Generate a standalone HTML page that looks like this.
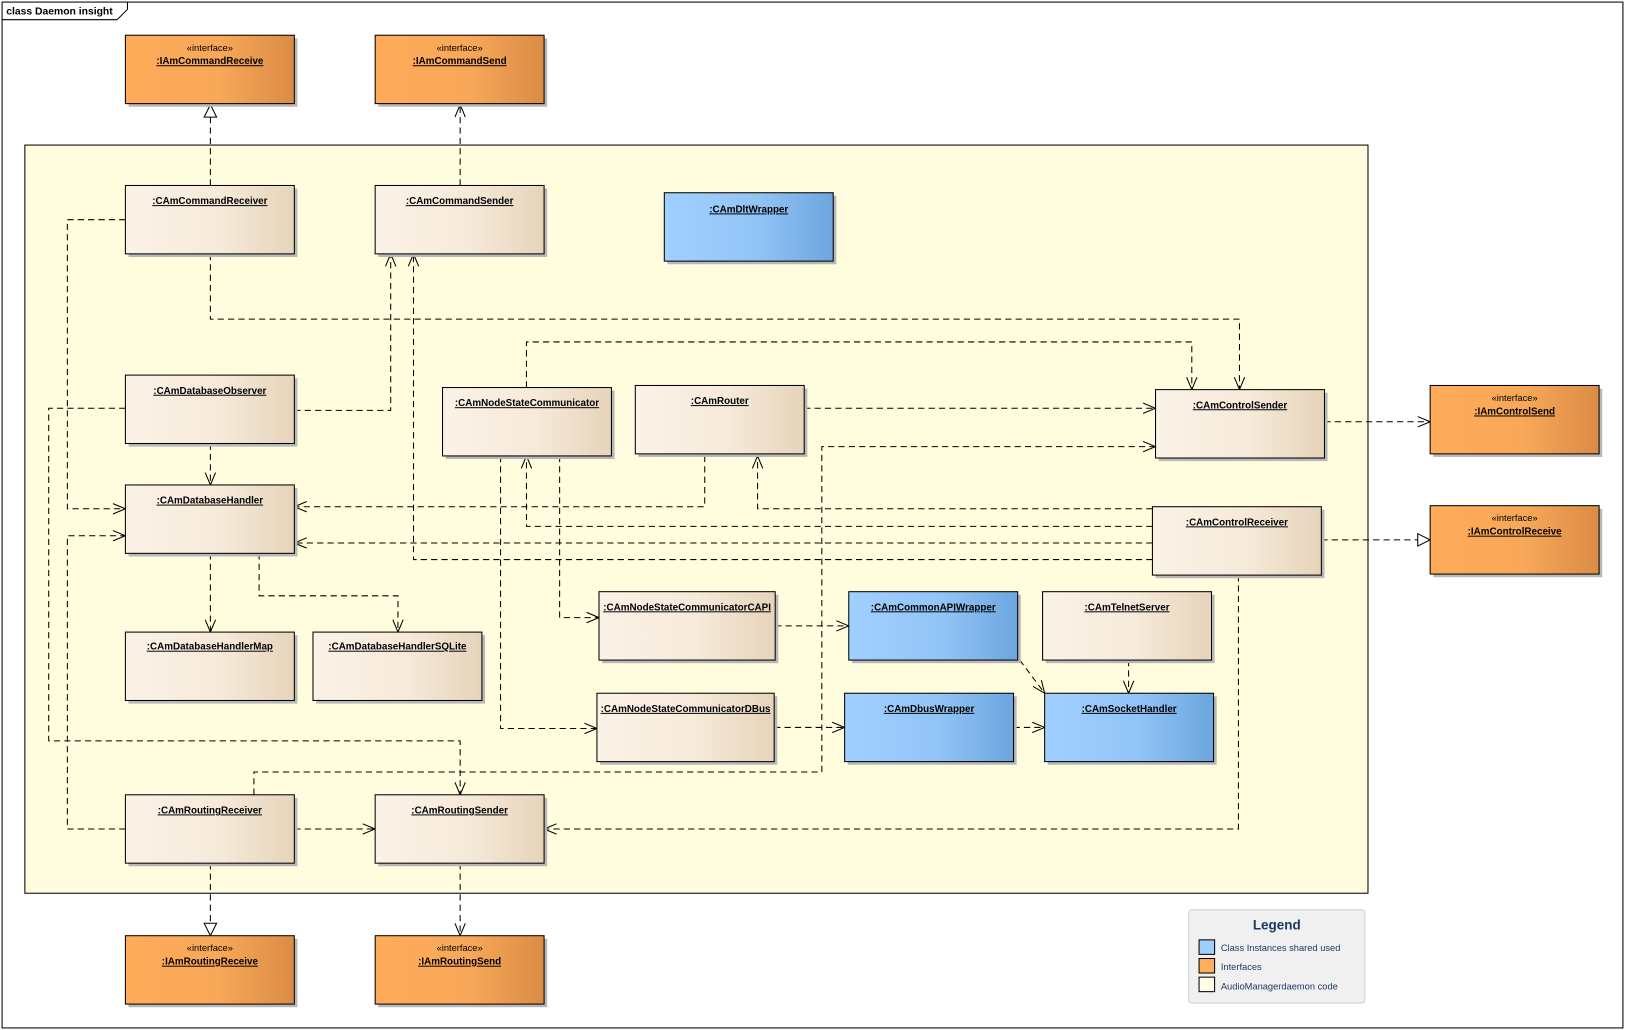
<!DOCTYPE html>
<html><head><meta charset="utf-8"><style>
html,body{margin:0;padding:0;background:#fff;}
svg{display:block;}
text{font-family:"Liberation Sans",Arial,sans-serif;}
.n{font-size:9.5px;font-weight:bold;text-decoration:underline;fill:#000;}
.s{font-size:9px;fill:#000;}
.c{fill:none;stroke:#000;stroke-width:1;stroke-dasharray:6,4;}
.r{stroke:#000;stroke-width:1;}
.sh{fill:#b8b8b8;}
</style></head><body>
<svg width="1625" height="1030" viewBox="0 0 1568 994" preserveAspectRatio="none" xmlns="http://www.w3.org/2000/svg">
<defs>
<linearGradient id="gb" x1="0" x2="1" y1="0" y2="0"><stop offset="0" stop-color="#FBF2E6"/><stop offset="0.55" stop-color="#F6EADA"/><stop offset="1" stop-color="#E6D4BA"/></linearGradient>
<linearGradient id="go" x1="0" x2="1" y1="0" y2="0"><stop offset="0" stop-color="#FFAC5A"/><stop offset="0.55" stop-color="#F8A858"/><stop offset="1" stop-color="#DA8C46"/></linearGradient>
<linearGradient id="gl" x1="0" x2="1" y1="0" y2="0"><stop offset="0" stop-color="#A0D0FF"/><stop offset="0.55" stop-color="#92C4F6"/><stop offset="1" stop-color="#6CA6DE"/></linearGradient>
<marker id="a" markerWidth="14" markerHeight="12" refX="13" refY="6" orient="auto" markerUnits="userSpaceOnUse"><path d="M1,1 L13,6 L1,11" fill="none" stroke="#000"/></marker>
<marker id="t" markerWidth="14" markerHeight="14" refX="13" refY="7" orient="auto" markerUnits="userSpaceOnUse"><path d="M1,1 L13,7 L1,13 Z" fill="#fff" stroke="#000"/></marker>
</defs>
<rect x="0" y="0" width="1568" height="994" fill="#fff"/>
<rect x="2" y="2" width="1564" height="990" fill="none" stroke="#000"/>
<path d="M2,19 L113,19 L123,9 L123,2" fill="none" stroke="#000"/>
<text x="6" y="14" style="font-size:10px;font-weight:bold">class Daemon insight</text>
<rect x="24" y="140" width="1296" height="722" fill="#FFFDDE" stroke="#000"/>

<!-- connectors -->
<path class="c" d="M203,179 L203,101" marker-end="url(#t)"/>
<path class="c" d="M444,179 L444,101" marker-end="url(#a)"/>
<path class="c" d="M121,212 L65,212 L65,491 L121,491" marker-end="url(#a)"/>
<path class="c" d="M203,245 L203,308 L1196,308 L1196,376" marker-end="url(#a)"/>
<path class="c" d="M508,374 L508,330 L1150,330 L1150,376" marker-end="url(#a)"/>
<path class="c" d="M284,396 L377,396 L377,245" marker-end="url(#a)"/>
<path class="c" d="M121,394 L47,394 L47,715 L444,715 L444,767" marker-end="url(#a)"/>
<path class="c" d="M203,428 L203,468" marker-end="url(#a)"/>
<path class="c" d="M776,394 L1115,394" marker-end="url(#a)"/>
<path class="c" d="M680,440 L680,489 L284,489" marker-end="url(#a)"/>
<path class="c" d="M1112,491 L731,491 L731,440" marker-end="url(#a)"/>
<path class="c" d="M1112,508 L508,508 L508,440" marker-end="url(#a)"/>
<path class="c" d="M1112,524 L284,524" marker-end="url(#a)"/>
<path class="c" d="M1112,540 L399,540 L399,245" marker-end="url(#a)"/>
<path class="c" d="M1278,407 L1380,407" marker-end="url(#a)"/>
<path class="c" d="M1275,521 L1380,521" marker-end="url(#t)"/>
<path class="c" d="M1195,555 L1195,800 L525,800" marker-end="url(#a)"/>
<path class="c" d="M540,440 L540,596 L578,596" marker-end="url(#a)"/>
<path class="c" d="M483,440 L483,703 L576,703" marker-end="url(#a)"/>
<path class="c" d="M203,534 L203,610" marker-end="url(#a)"/>
<path class="c" d="M250,534 L250,575 L384,575 L384,610" marker-end="url(#a)"/>
<path class="c" d="M748,604 L819,604" marker-end="url(#a)"/>
<path class="c" d="M747,702 L815,702" marker-end="url(#a)"/>
<path class="c" d="M984,637 L1008,669" marker-end="url(#a)"/>
<path class="c" d="M1089,637 L1089,669" marker-end="url(#a)"/>
<path class="c" d="M978,702 L1008,702" marker-end="url(#a)"/>
<path class="c" d="M245,767 L245,745 L793,745 L793,431 L1115,431" marker-end="url(#a)"/>
<path class="c" d="M121,800 L65,800 L65,517 L121,517" marker-end="url(#a)"/>
<path class="c" d="M284,800 L362,800" marker-end="url(#a)"/>
<path class="c" d="M203,833 L203,903" marker-end="url(#t)"/>
<path class="c" d="M444,833 L444,903" marker-end="url(#a)"/>

<!-- interfaces -->
<g>
<rect class="sh" x="124" y="37" width="163" height="66"/><rect class="r" x="121" y="34" width="163" height="66" fill="url(#go)"/>
<text class="s" x="202.5" y="49" text-anchor="middle">«interface»</text><text class="n" x="202.5" y="62" text-anchor="middle">:IAmCommandReceive</text>
<rect class="sh" x="365" y="37" width="163" height="66"/><rect class="r" x="362" y="34" width="163" height="66" fill="url(#go)"/>
<text class="s" x="443.5" y="49" text-anchor="middle">«interface»</text><text class="n" x="443.5" y="62" text-anchor="middle">:IAmCommandSend</text>
<rect class="sh" x="1383" y="375" width="163" height="66"/><rect class="r" x="1380" y="372" width="163" height="66" fill="url(#go)"/>
<text class="s" x="1461.5" y="387" text-anchor="middle">«interface»</text><text class="n" x="1461.5" y="400" text-anchor="middle">:IAmControlSend</text>
<rect class="sh" x="1383" y="491" width="163" height="66"/><rect class="r" x="1380" y="488" width="163" height="66" fill="url(#go)"/>
<text class="s" x="1461.5" y="503" text-anchor="middle">«interface»</text><text class="n" x="1461.5" y="516" text-anchor="middle">:IAmControlReceive</text>
<rect class="sh" x="124" y="906" width="163" height="66"/><rect class="r" x="121" y="903" width="163" height="66" fill="url(#go)"/>
<text class="s" x="202.5" y="918" text-anchor="middle">«interface»</text><text class="n" x="202.5" y="931" text-anchor="middle">:IAmRoutingReceive</text>
<rect class="sh" x="365" y="906" width="163" height="66"/><rect class="r" x="362" y="903" width="163" height="66" fill="url(#go)"/>
<text class="s" x="443.5" y="918" text-anchor="middle">«interface»</text><text class="n" x="443.5" y="931" text-anchor="middle">:IAmRoutingSend</text>
</g>

<!-- classes -->
<g>
<rect class="sh" x="124" y="182" width="163" height="66"/><rect class="r" x="121" y="179" width="163" height="66" fill="url(#gb)"/><text class="n" x="202.5" y="197" text-anchor="middle">:CAmCommandReceiver</text>
<rect class="sh" x="365" y="182" width="163" height="66"/><rect class="r" x="362" y="179" width="163" height="66" fill="url(#gb)"/><text class="n" x="443.5" y="197" text-anchor="middle">:CAmCommandSender</text>
<rect class="sh" x="644" y="189" width="163" height="66"/><rect class="r" x="641" y="186" width="163" height="66" fill="url(#gl)"/><text class="n" x="722.5" y="205" text-anchor="middle">:CAmDltWrapper</text>
<rect class="sh" x="124" y="365" width="163" height="66"/><rect class="r" x="121" y="362" width="163" height="66" fill="url(#gb)"/><text class="n" x="202.5" y="380" text-anchor="middle">:CAmDatabaseObserver</text>
<rect class="sh" x="430" y="377" width="163" height="66"/><rect class="r" x="427" y="374" width="163" height="66" fill="url(#gb)"/><text class="n" x="508.5" y="392" text-anchor="middle">:CAmNodeStateCommunicator</text>
<rect class="sh" x="616" y="375" width="163" height="66"/><rect class="r" x="613" y="372" width="163" height="66" fill="url(#gb)"/><text class="n" x="694.5" y="390" text-anchor="middle">:CAmRouter</text>
<rect class="sh" x="1118" y="379" width="163" height="66"/><rect class="r" x="1115" y="376" width="163" height="66" fill="url(#gb)"/><text class="n" x="1196.5" y="394" text-anchor="middle">:CAmControlSender</text>
<rect class="sh" x="124" y="471" width="163" height="66"/><rect class="r" x="121" y="468" width="163" height="66" fill="url(#gb)"/><text class="n" x="202.5" y="486" text-anchor="middle">:CAmDatabaseHandler</text>
<rect class="sh" x="1115" y="492" width="163" height="66"/><rect class="r" x="1112" y="489" width="163" height="66" fill="url(#gb)"/><text class="n" x="1193.5" y="507" text-anchor="middle">:CAmControlReceiver</text>
<rect class="sh" x="581" y="574" width="170" height="66"/><rect class="r" x="578" y="571" width="170" height="66" fill="url(#gb)"/><text class="n" x="663" y="589" text-anchor="middle">:CAmNodeStateCommunicatorCAPI</text>
<rect class="sh" x="822" y="574" width="163" height="66"/><rect class="r" x="819" y="571" width="163" height="66" fill="url(#gl)"/><text class="n" x="900.5" y="589" text-anchor="middle">:CAmCommonAPIWrapper</text>
<rect class="sh" x="1009" y="574" width="163" height="66"/><rect class="r" x="1006" y="571" width="163" height="66" fill="url(#gb)"/><text class="n" x="1087.5" y="589" text-anchor="middle">:CAmTelnetServer</text>
<rect class="sh" x="124" y="613" width="163" height="66"/><rect class="r" x="121" y="610" width="163" height="66" fill="url(#gb)"/><text class="n" x="202.5" y="627" text-anchor="middle">:CAmDatabaseHandlerMap</text>
<rect class="sh" x="305" y="613" width="163" height="66"/><rect class="r" x="302" y="610" width="163" height="66" fill="url(#gb)"/><text class="n" x="383.5" y="627" text-anchor="middle">:CAmDatabaseHandlerSQLite</text>
<rect class="sh" x="579" y="672" width="171" height="66"/><rect class="r" x="576" y="669" width="171" height="66" fill="url(#gb)"/><text class="n" x="661.5" y="687" text-anchor="middle">:CAmNodeStateCommunicatorDBus</text>
<rect class="sh" x="818" y="672" width="163" height="66"/><rect class="r" x="815" y="669" width="163" height="66" fill="url(#gl)"/><text class="n" x="896.5" y="687" text-anchor="middle">:CAmDbusWrapper</text>
<rect class="sh" x="1011" y="672" width="163" height="66"/><rect class="r" x="1008" y="669" width="163" height="66" fill="url(#gl)"/><text class="n" x="1089.5" y="687" text-anchor="middle">:CAmSocketHandler</text>
<rect class="sh" x="124" y="770" width="163" height="66"/><rect class="r" x="121" y="767" width="163" height="66" fill="url(#gb)"/><text class="n" x="202.5" y="785" text-anchor="middle">:CAmRoutingReceiver</text>
<rect class="sh" x="365" y="770" width="163" height="66"/><rect class="r" x="362" y="767" width="163" height="66" fill="url(#gb)"/><text class="n" x="443.5" y="785" text-anchor="middle">:CAmRoutingSender</text>
</g>

<!-- legend -->
<rect x="1147" y="878" width="170" height="90" rx="3" fill="#F0F0F0" stroke="#D0D0D0"/>
<text x="1232" y="897" text-anchor="middle" style="font-size:13px;font-weight:bold;fill:#1F3864">Legend</text>
<rect x="1157" y="907" width="15" height="14" fill="#9ECFFF" stroke="#000"/>
<text x="1178" y="918" style="font-size:9px;fill:#1F3864">Class Instances shared used</text>
<rect x="1157" y="925" width="15" height="14" fill="#FFAE5E" stroke="#000"/>
<text x="1178" y="936" style="font-size:9px;fill:#1F3864">Interfaces</text>
<rect x="1157" y="943" width="15" height="14" fill="#FFFDE8" stroke="#000"/>
<text x="1178" y="955" style="font-size:9px;fill:#1F3864">AudioManagerdaemon code</text>
</svg>
</body></html>
